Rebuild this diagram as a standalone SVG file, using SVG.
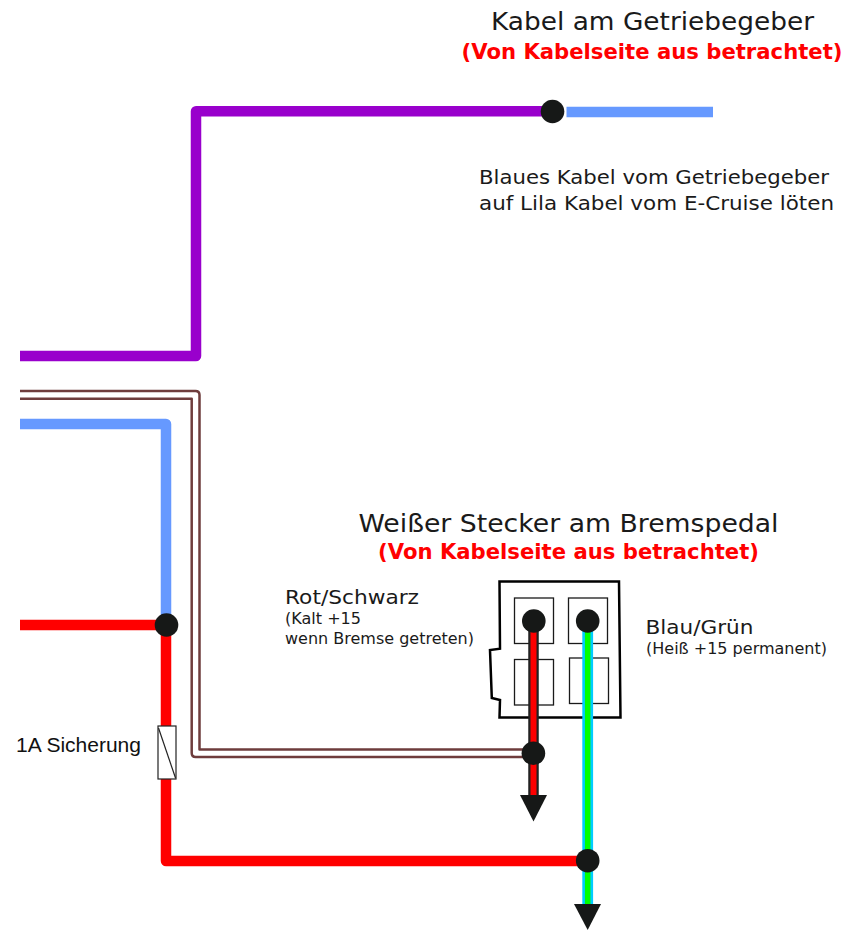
<svg xmlns="http://www.w3.org/2000/svg" width="846" height="930" viewBox="0 0 846 930">
<style>
.w{fill:none;stroke-linejoin:round;stroke-linecap:butt}
.dot{fill:#161817}
.t{font-family:"DejaVu Sans",Verdana,sans-serif;fill:#1a1a1a}
.h{font-size:25px}
.b{font-size:20.500px;font-weight:bold;fill:#f00}
.m{font-size:20px}
.n{font-size:15px}
.box{fill:#fff;stroke:#1a1a1a;stroke-width:1.3}
</style>
<rect width="846" height="930" fill="#fff"/>
<g id="connectors">
<path class="w" d="M20 356H196V111.300H552" stroke="#9900cc" stroke-width="10.500"/>
<path class="w" d="M566.500 112H713" stroke="#6699ff" stroke-width="10.500"/>
<path class="w" d="M20 424H166V625" stroke="#6699ff" stroke-width="10.500"/>
<path class="w" d="M20 625H166V861H588" stroke="#f00" stroke-width="10.500"/>
<path class="w" d="M20 391H195.500Q199.500 391 199.500 395V749.500H533" stroke="#6e3c3c" stroke-width="2.500"/>
<path class="w" d="M20 398.700H191.700V753Q191.700 757 195.700 757H533" stroke="#6e3c3c" stroke-width="2.500"/>
</g>
<g id="fuse">
<rect x="158" y="726" width="18" height="53" fill="#fff" stroke="#222" stroke-width="1.200"/>
<path d="M158.500 728L175.500 778" stroke="#222" stroke-width="1.200" fill="none"/>
<text x="16" y="752" font-family="Liberation Sans,Arial,sans-serif" font-size="20.500" fill="#111" textLength="125" lengthAdjust="spacingAndGlyphs">1A Sicherung</text>
</g>
<g id="stecker">
<path d="M499.500 581.500H619L620.500 717.500H499.500L500 700L491.800 698L490 650L500 648.700Z" fill="#fff" stroke="#000" stroke-width="2.500" stroke-linejoin="miter"/>
<rect class="box" x="514.500" y="598" width="39" height="45.500"/>
<rect class="box" x="568.500" y="598" width="39" height="45.500"/>
<rect class="box" x="514.500" y="659.500" width="39" height="45.500"/>
<rect class="box" x="569.500" y="658" width="39" height="45.500"/>
</g>
<g id="wire-rot-schwarz">
<path d="M533.500 621V800" stroke="#222" stroke-width="10.500" fill="none"/>
<path d="M533.500 621V800" stroke="#f00" stroke-width="6" fill="none"/>
<polygon class="dot" points="520,795 547,795 533.500,821.500"/>
</g>
<g id="wire-blau-gruen">
<path d="M587.700 621V908" stroke="#00ccff" stroke-width="10.800" fill="none"/>
<path d="M587.700 621V908" stroke="#00ff00" stroke-width="5.500" fill="none"/>
<polygon class="dot" points="574,904 601,904 587.700,930"/>
</g>
<g id="nodes">
<circle id="node-getriebe" class="dot" cx="552.500" cy="111.500" r="11.800"/>
<circle id="node-split" class="dot" cx="166.500" cy="625" r="11.800"/>
<circle id="node-pin1" class="dot" cx="533.800" cy="621" r="11.800"/>
<circle id="node-pin2" class="dot" cx="587.700" cy="621" r="11.800"/>
<circle id="node-brown" class="dot" cx="533.400" cy="753.300" r="11.800"/>
<circle id="node-green" class="dot" cx="587.700" cy="860.700" r="11.800"/>
</g>
<g id="labels">
<text class="t h" x="491" y="30" textLength="323" lengthAdjust="spacingAndGlyphs">Kabel am Getriebegeber</text>
<text class="t b" x="461.500" y="58.500" textLength="381" lengthAdjust="spacingAndGlyphs">(Von Kabelseite aus betrachtet)</text>
<text class="t m" x="479" y="184" textLength="350" lengthAdjust="spacingAndGlyphs">Blaues Kabel vom Getriebegeber</text>
<text class="t m" x="479" y="210" textLength="355" lengthAdjust="spacingAndGlyphs">auf Lila Kabel vom E-Cruise löten</text>
<text class="t h" x="358.500" y="531.500" textLength="420" lengthAdjust="spacingAndGlyphs">Weißer Stecker am Bremspedal</text>
<text class="t b" x="378" y="559" textLength="381" lengthAdjust="spacingAndGlyphs">(Von Kabelseite aus betrachtet)</text>
<text class="t m" x="285" y="604" textLength="134" lengthAdjust="spacingAndGlyphs">Rot/Schwarz</text>
<text class="t n" x="285" y="624" textLength="76" lengthAdjust="spacingAndGlyphs">(Kalt +15</text>
<text class="t n" x="285" y="644" textLength="189" lengthAdjust="spacingAndGlyphs">wenn Bremse getreten)</text>
<text class="t m" x="645.500" y="634" textLength="108" lengthAdjust="spacingAndGlyphs">Blau/Grün</text>
<text class="t n" x="646" y="654" textLength="181" lengthAdjust="spacingAndGlyphs">(Heiß +15 permanent)</text>
</g>
</svg>
